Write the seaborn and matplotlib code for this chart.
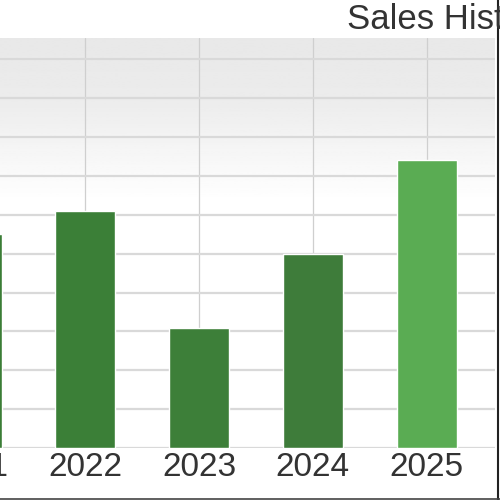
import numpy as np
import pandas as pd
import matplotlib
matplotlib.use("Agg")
import matplotlib.pyplot as plt
from matplotlib.lines import Line2D
import seaborn as sns

# Dữ liệu (mỗi vạch lưới = 10)
years = ["2021", "2022", "2023", "2024", "2025"]
sales = [55, 61, 31, 50, 74]
bar_colors = ["#3b7d36", "#3b7f37", "#3d7f39", "#3e7c3a", "#5aac53"]
title_text = "Sales History"

sns.set_style("white")
plt.rcParams["font.family"] = ["Liberation Sans", "DejaVu Sans"]

df = pd.DataFrame({"year": years, "sales": sales})

fig = plt.figure(figsize=(5, 5), dpi=100)
# truc mo rong ra ngoai khung hinh ben trai (anh goc bi cat)
ax = fig.add_axes([-0.171, 0.104, 1.161, 0.82])

# nen chuyen mau xam o phia tren
grad_y = np.linspace(0, 1, 256)
shade = np.interp(grad_y, [0, 0.6, 0.85, 1.0], [1.0, 1.0, 0.925, 0.91])
ax.imshow(shade[::-1, None], extent=[0, 1, 0, 1], transform=ax.transAxes,
          cmap="gray", vmin=0, vmax=1, aspect="auto", zorder=0.1)

sns.barplot(data=df, x="year", y="sales", hue="year", palette=bar_colors,
            width=0.53, legend=False, saturation=1, ax=ax, zorder=2)

ax.set_xlim(-0.5, 4.6)
ax.set_ylim(0, 105.5)
ax.set_yticks(np.arange(0, 101, 10))
ax.set_axisbelow(True)
ax.grid(axis="y", color="#d9d9d9", linewidth=1.6)
ax.grid(axis="x", color="#cfcfcf", linewidth=0.9)
ax.tick_params(axis="x", length=0, pad=3, labelsize=24, labelcolor="#333333")
ax.tick_params(axis="y", length=0, labelleft=False)
ax.set_xlabel("")
ax.set_ylabel("")
for s in ax.spines.values():
    s.set_visible(False)

fig.text(0.694, 0.96, title_text, ha="left", va="center",
         fontsize=25, color="#333333")

# vien toi o mep phai va mep duoi
fig.add_artist(Line2D([0.995, 0.995], [0, 1], transform=fig.transFigure,
                      color="#222222", linewidth=1.5))
fig.add_artist(Line2D([0, 1], [0.003, 0.003], transform=fig.transFigure,
                      color="#444444", linewidth=1.2))

plt.savefig("out.png", dpi=100)
plt.close()
